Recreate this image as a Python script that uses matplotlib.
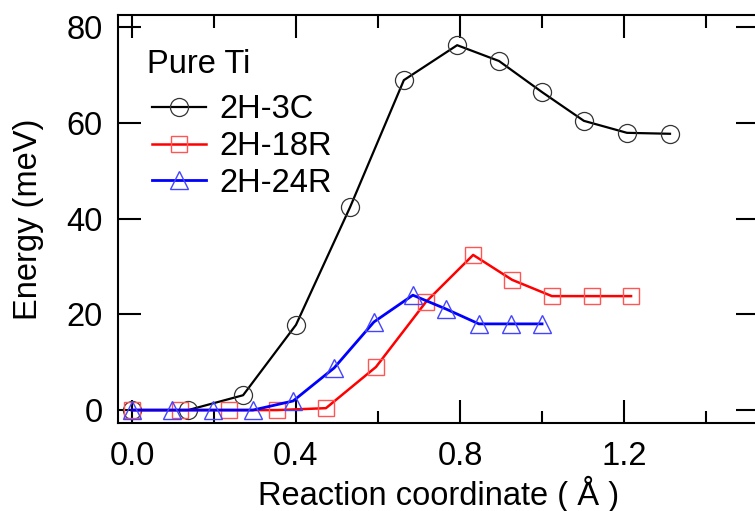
import matplotlib
matplotlib.use('Agg')
import matplotlib.pyplot as plt
from matplotlib.ticker import MultipleLocator

plt.rcParams['font.family'] = ['Liberation Sans', 'DejaVu Sans']

# 2H-3C (black circles)
x_3c = [0.0, 0.137, 0.271, 0.400, 0.532, 0.663, 0.793, 0.895, 1.000, 1.102, 1.207, 1.312]
e_3c = [0.0, 0.0, 3.1, 17.8, 42.4, 68.9, 76.2, 72.9, 66.4, 60.4, 57.9, 57.7]

# 2H-18R (red squares)
x_18r = [0.0, 0.117, 0.237, 0.354, 0.473, 0.595, 0.717, 0.832, 0.927, 1.024, 1.122, 1.217]
e_18r = [0.0, 0.0, 0.0, 0.0, 0.4, 9.0, 22.6, 32.4, 27.2, 23.8, 23.8, 23.8]

# 2H-24R (blue triangles)
x_24r = [0.0, 0.098, 0.198, 0.295, 0.393, 0.493, 0.590, 0.685, 0.766, 0.846, 0.924, 1.000]
e_24r = [0.0, 0.0, 0.0, 0.0, 1.9, 8.8, 18.4, 24.0, 21.1, 18.0, 18.0, 18.0]

labels = ['2H-3C', '2H-18R', '2H-24R']
fs = 23.5

fig = plt.figure(figsize=(7.55, 5.11), dpi=100)
ax = fig.add_axes([0.1563, 0.1722, 0.849, 0.7984])

ax.plot(x_3c, e_3c, color='black', lw=1.6, marker='o', ms=13,
        mfc='none', mec='#333333', mew=0.9, label=labels[0])
ax.plot(x_18r, e_18r, color='#ff0000', lw=1.8, marker='s', ms=12,
        mfc='none', mec='#ff5555', mew=1.0, label=labels[1])
ax.plot(x_24r, e_24r, color='#0000ff', lw=2.0, marker='^', ms=13,
        mfc='none', mec='#4444ff', mew=1.0, label=labels[2])

ax.set_xlim(-0.034, 1.529)
ax.set_ylim(-2.7, 82.5)

ax.xaxis.set_minor_locator(MultipleLocator(0.2))
ax.yaxis.set_major_locator(MultipleLocator(20))
ax.set_xticks([0.0, 0.4, 0.8, 1.2])
ax.set_xticklabels(['0.0', '0.4', '0.8', '1.2'])

ax.tick_params(which='both', direction='in', top=True, right=True,
               width=1.5, labelsize=fs)
ax.tick_params(which='major', length=16.5)
ax.tick_params(which='minor', length=9)
ax.tick_params(axis='x', pad=13)
ax.tick_params(axis='y', pad=11)
for sp in ax.spines.values():
    sp.set_linewidth(1.5)

ax.set_xlabel('Reaction coordinate ( Å )', fontsize=fs, labelpad=3)
ax.set_ylabel('Energy (meV)', fontsize=fs, labelpad=16)

ax.text(0.045, 0.858, 'Pure Ti', transform=ax.transAxes, fontsize=fs,
        ha='left', va='baseline')
leg = ax.legend(loc='upper left', bbox_to_anchor=(0.053, 0.806),
                frameon=False, fontsize=fs,
                handlelength=1.65, handletextpad=0.42, labelspacing=0.18,
                borderpad=0, borderaxespad=0)

fig.savefig('out.png', dpi=100)
